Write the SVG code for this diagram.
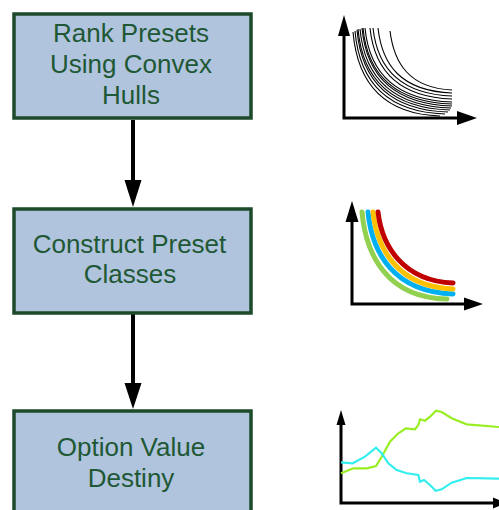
<svg xmlns="http://www.w3.org/2000/svg" width="499" height="510" viewBox="0 0 499 510">
<style>
.box{fill:#b0c4de;stroke:#1c4a2a;stroke-width:3.5}
.lbl{font-family:"Liberation Sans",Arial,sans-serif;font-size:26px;fill:#1f5834;text-anchor:middle}
.conn{stroke:#000;stroke-width:4;fill:none}
.axis{stroke:#000;stroke-width:3;fill:none}
.thin{stroke:#000;stroke-width:1.1;fill:none}
.thick{stroke-width:5;fill:none;stroke-linecap:round}
</style>
<rect width="499" height="510" fill="#fff"/>
<g id="connectors">
<line class="conn" x1="133" y1="120" x2="133" y2="182"/>
<polygon points="124.5,180 141.5,180 133,207"/>
<line class="conn" x1="133" y1="314" x2="133" y2="385"/>
<polygon points="124.5,383 141.5,383 133,409"/>
</g>
<g id="node1">
<rect class="box" x="14" y="14" width="237" height="104"/>
<text class="lbl" x="131" y="42">Rank Presets</text>
<text class="lbl" x="131" y="73">Using Convex</text>
<text class="lbl" x="131" y="104">Hulls</text>
</g>
<g id="node2">
<rect class="box" x="14" y="209" width="237" height="104"/>
<text class="lbl" x="129.5" y="253">Construct Preset</text>
<text class="lbl" x="130" y="283">Classes</text>
</g>
<g id="node3">
<rect class="box" x="14" y="411" width="237" height="104"/>
<text class="lbl" x="131" y="456">Option Value</text>
<text class="lbl" x="131" y="487">Destiny</text>
</g>
<g id="graph1">
<polyline class="axis" points="344,30 344,118 460,118"/>
<polygon points="338,36 350,36 344,15"/>
<polygon points="457,111 457,125 477,118"/>
<g class="thin">
<path d="M353,32 C357,78 379,114 440,116"/>
<path d="M355,31 C359,77 382,112 445,114"/>
<path d="M357,30 C361,75 384,110 448,112"/>
<path d="M358,29 C362,74 386,108 450,110"/>
<path d="M360,29 C364,72 387,106 451,108"/>
<path d="M362,28 C366,71 389,104 452,106"/>
<path d="M363,28 C367,70 390,102 452,104"/>
<path d="M365,28 C369,69 391,100 452,102"/>
<path d="M370,28 C374,67 395,97 452,99"/>
<path d="M373,28 C377,65 397,94 452,96"/>
<path d="M378,28 C382,64 400,91 452,93"/>
<path d="M390,31 C394,63 409,88 452,90"/>
</g>
</g>
<g id="graph2">
<polyline class="axis" points="352,220 352,304 466,304"/>
<polygon points="345.5,222 358.5,222 352,201"/>
<polygon points="464,297.5 464,310.5 483,304"/>
<path class="thick" stroke="#92d050" d="M362,212 C366,256 388,298 447,299"/>
<path class="thick" stroke="#00b0f0" d="M368,212 C372,253 394,292 453,294"/>
<path class="thick" stroke="#ffc000" d="M373,212 C377,250 399,287 453,289"/>
<path class="thick" stroke="#c00000" d="M378,212 C382,247 404,281 453,283"/>
</g>
<g id="graph3">
<polyline class="axis" points="341,423 341,503 495,503"/>
<polygon points="336.5,425 345.5,425 341,410"/>
<polygon points="493,497.5 493,508.5 506,503"/>
<polyline fill="none" stroke="#99ee22" stroke-width="2.2" points="341,473.3 353.3,468.3 366.7,468.3 376,466 381.7,456.7 390,441.7 398.3,433.3 406,428.3 415,429.3 418.3,425 420,419.3 425,420.7 430,416.7 436,410.7 441.7,412 451.7,418.3 466.7,424.3 499,427"/>
<polyline fill="none" stroke="#33eeee" stroke-width="2.2" points="341,462.3 352.7,463.3 365,456.7 376,447.7 381.7,453.3 388.3,463.3 396.7,470 406.7,473.3 418.3,475 420,481.7 424,480 430,485 435.7,490.7 441.7,489.3 451.7,482.7 466.7,478 500,478.7"/>
</g>
</svg>
